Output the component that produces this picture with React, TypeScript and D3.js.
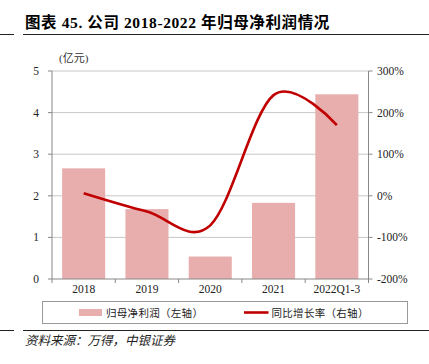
import React from "react";
import * as d3 from "d3";

const categories = ["2018", "2019", "2020", "2021", "2022Q1-3"];
const profit = [2.66, 1.68, 0.54, 1.83, 4.44];
const growth = [6, -38, -71, 242, 170];
const leftTicks = [0, 1, 2, 3, 4, 5];
const rightTicks = [-200, -100, 0, 100, 200, 300];

const W = 429;
const H = 364;
const M = { left: 52, right: 368.5, top: 71, bottom: 279 };
const serif = "'Liberation Serif', 'Times New Roman', 'Noto Sans CJK SC', serif";
const cjk = "'Liberation Serif', 'Noto Sans CJK SC', serif";

export default function App() {
  const x = d3.scaleBand<string>().domain(categories).range([M.left, M.right]).paddingInner(0.32).paddingOuter(0.16);
  const xb = d3.scaleBand<string>().domain(categories).range([M.left, M.right]);
  const yL = d3.scaleLinear().domain([0, 5]).range([M.bottom, M.top]);
  const yR = d3.scaleLinear().domain([-200, 300]).range([M.bottom, M.top]);
  const line = d3
    .line<number>()
    .x((_, i) => (xb(categories[i]) as number) + xb.bandwidth() / 2)
    .y((d) => yR(d))
    .curve(d3.curveCardinal.tension(0));
  const boundaries = categories.map((c) => xb(c) as number).concat([M.right]);
  return (
    <svg width={W} height={H} style={{ position: "absolute", left: 0, top: 0 }}>
      <rect width={W} height={H} fill="#fff" />
      <text x={25} y={28} fontFamily={cjk} fontWeight="bold" fontSize={15.5} letterSpacing={0.6} fill="#000">
        图表 45. 公司 2018-2022 年归母净利润情况
      </text>
      <line x1={0} x2={14} y1={34.5} y2={34.5} stroke="#222" strokeWidth={1} />
      <line x1={23} x2={W} y1={34.5} y2={34.5} stroke="#222" strokeWidth={1} />
      <text x={59} y={62} fontFamily={cjk} fontSize={11} fill="#333">(亿元)</text>
      {leftTicks.slice(1).map((t) => (
        <line key={t} x1={M.left} x2={M.right} y1={yL(t)} y2={yL(t)} stroke="#c8c8c8" strokeWidth={1} />
      ))}
      {profit.map((v, i) => (
        <rect key={i} x={x(categories[i])} width={x.bandwidth()} y={yL(v)} height={yL(0) - yL(v)} fill="#e8adad" />
      ))}
      <path d={line(growth) || ""} fill="none" stroke="#c00000" strokeWidth={2.6} />
      <line x1={M.left} x2={M.left} y1={M.top} y2={M.bottom} stroke="#888" />
      <line x1={M.right} x2={M.right} y1={M.top} y2={M.bottom} stroke="#888" />
      <line x1={M.left} x2={M.right} y1={M.bottom} y2={M.bottom} stroke="#888" />
      {leftTicks.map((t) => (
        <g key={t}>
          <line x1={M.left - 4} x2={M.left} y1={yL(t)} y2={yL(t)} stroke="#888" />
          <text x={39} y={yL(t) + 4} textAnchor="end" fontFamily={serif} fontSize={11.5} fill="#222">{t}</text>
        </g>
      ))}
      {rightTicks.map((t) => (
        <g key={t}>
          <line x1={M.right} x2={M.right + 4} y1={yR(t)} y2={yR(t)} stroke="#888" />
          <text x={377} y={yR(t) + 4} fontFamily={serif} fontSize={11.5} fill="#222">{t}%</text>
        </g>
      ))}
      {boundaries.map((b, i) => (
        <line key={i} x1={b} x2={b} y1={M.bottom} y2={M.bottom + 4} stroke="#888" />
      ))}
      {categories.map((c) => (
        <text key={c} x={(xb(c) as number) + xb.bandwidth() / 2} y={293} textAnchor="middle" fontFamily={serif} fontSize={11.5} fill="#222">{c}</text>
      ))}
      <rect x={42.5} y={301.5} width={365} height={22} fill="none" stroke="#999" />
      <rect x={79} y={309} width={23} height={7} fill="#e8adad" />
      <text x={106} y={316.5} fontFamily={cjk} fontSize={10.5} letterSpacing={0.3} fill="#222">归母净利润（左轴）</text>
      <line x1={244} x2={268.5} y1={312.5} y2={312.5} stroke="#c00000" strokeWidth={2.6} />
      <text x={271.5} y={316.5} fontFamily={cjk} fontSize={10.5} letterSpacing={0.3} fill="#222">同比增长率（右轴）</text>
      <line x1={0} x2={14} y1={330.5} y2={330.5} stroke="#222" />
      <line x1={23} x2={W} y1={330.5} y2={330.5} stroke="#222" />
      <text x={25} y={345} fontFamily={cjk} fontStyle="italic" fontSize={12.5} fill="#222">资料来源：万得，中银证券</text>
    </svg>
  );
}
